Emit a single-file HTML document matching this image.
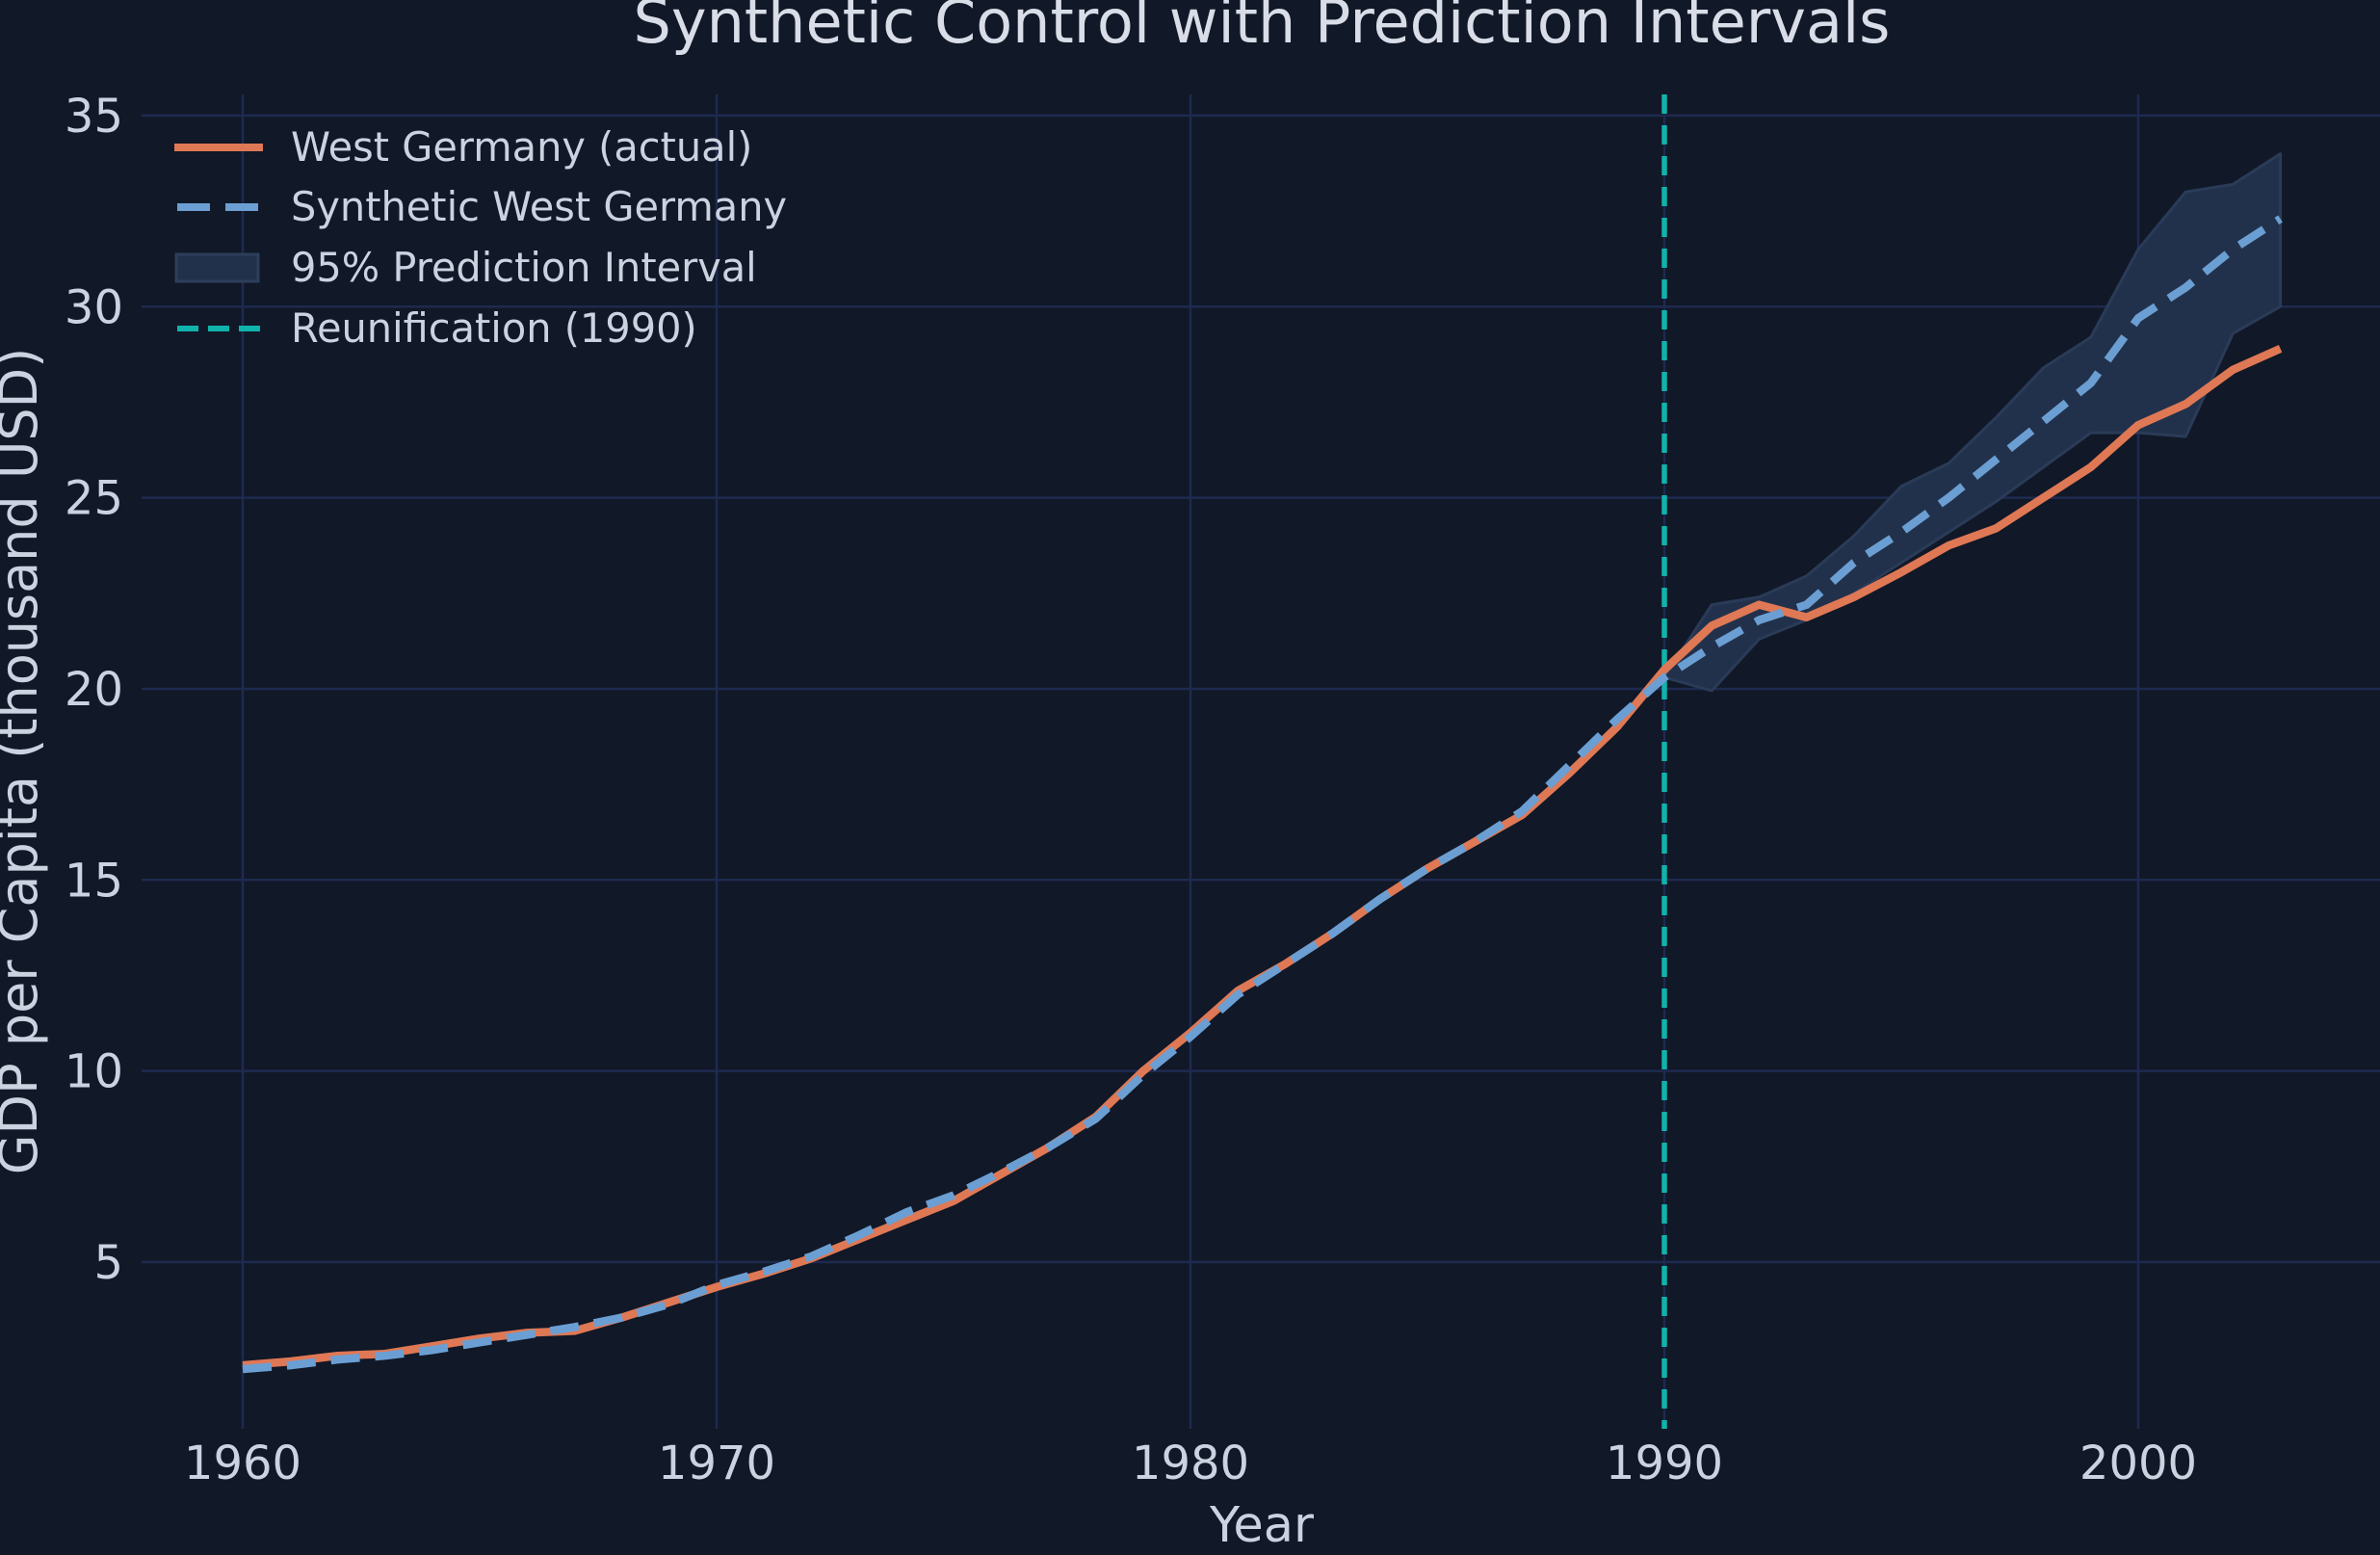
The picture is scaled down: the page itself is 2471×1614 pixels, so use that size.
<!DOCTYPE html>
<html><head><meta charset="utf-8"><style>
html,body{margin:0;padding:0;background:#111827;}
svg{display:block;font-family:"DejaVu Sans","Liberation Sans",sans-serif;}
</style></head><body>
<svg id="chart" width="2471" height="1614" viewBox="0 0 2471 1614" xmlns="http://www.w3.org/2000/svg">
<rect width="2471" height="1614" fill="#111827"/>
<g id="grid"></g>
<g id="band"></g>
<g id="lines"></g>
<g id="ticks"></g>
<text x="1310" y="44" text-anchor="middle" font-size="62" fill="#d8dde8">Synthetic Control with Prediction Intervals</text>
<text x="1310" y="1600" text-anchor="middle" font-size="51" fill="#cbd2e0">Year</text>
<text transform="translate(38,790) rotate(-90)" text-anchor="middle" font-size="54" fill="#cbd2e0">GDP per Capita (thousand USD)</text>
<g>
<g>
<line x1="181" y1="153" x2="273" y2="153" stroke="#df7855" stroke-width="8"/>
<text x="302" y="167" font-size="41.5" fill="#cbd2e0">West Germany (actual)</text></g>
<g>
<line x1="184" y1="215" x2="273" y2="215" stroke="#6b9fd3" stroke-width="8" stroke-dasharray="34,16"/>
<text x="302" y="229" font-size="41.5" fill="#cbd2e0">Synthetic West Germany</text></g>
<g>
<rect x="183" y="264" width="85" height="28" fill="#22314b" stroke="#2d3e5b" stroke-width="3"/>
<text x="302" y="292" font-size="41.5" fill="#cbd2e0">95% Prediction Interval</text></g>
<g>
<line x1="184" y1="341" x2="273" y2="341" stroke="#10b3ab" stroke-width="6" stroke-dasharray="22,10"/>
<text x="302" y="355" font-size="41.5" fill="#cbd2e0">Reunification (1990)</text></g>
</g>
</svg>
<script>
const years = [];
for (let y = 1960; y <= 2003; y++) years.push(y);
const actual = [2.3,2.4,2.55,2.6,2.8,3.0,3.15,3.2,3.55,3.95,4.35,4.7,5.1,5.6,6.1,6.6,7.3,8.0,8.8,10.0,11.0,12.1,12.8,13.6,14.5,15.3,16.0,16.7,17.8,19.0,20.5,21.65,22.2,21.87,22.4,23.05,23.75,24.2,25.0,25.8,26.9,27.45,28.35,28.9];
const synthetic = [2.2,2.3,2.45,2.55,2.7,2.9,3.1,3.3,3.55,3.9,4.4,4.75,5.15,5.7,6.3,6.75,7.35,8.0,8.75,9.9,10.9,12.0,12.8,13.6,14.5,15.3,16.0,16.8,18.0,19.2,20.3,21.1,21.8,22.2,23.3,24.1,25.0,26.0,27.0,28.0,29.7,30.5,31.5,32.3];
const bandYears = [1990,1991,1992,1993,1994,1995,1996,1997,1998,1999,2000,2001,2002,2003];
const upper = [20.3,22.2,22.4,22.95,24.0,25.3,25.9,27.1,28.4,29.2,31.5,33.0,33.2,34.0];
const lower = [20.3,19.95,21.3,21.8,22.5,23.3,24.1,24.9,25.8,26.7,26.7,26.6,29.3,30.0];
const xTicks = [1960,1970,1980,1990,2000];
const yTicks = [5,10,15,20,25,30,35];
const reunificationYear = 1990;

const PL=147, PR=2471, PT=98, PB=1483;
const X = v => 252 + (v-1960)*49.2;
const Y = v => 1310 - (v-5)*39.67;
const NS="http://www.w3.org/2000/svg";
function mk(tag, parent, attrs){const e=document.createElementNS(NS,tag);for(const k in attrs)e.setAttribute(k,attrs[k]);document.getElementById(parent).appendChild(e);return e;}

xTicks.forEach(t=>{
  const l=mk('line','grid',{x1:X(t),x2:X(t),y1:PT,y2:PB,stroke:'#1e2a50','stroke-width':2.5});
  
  
  const tx=mk('text','ticks',{x:X(t),y:1535,'text-anchor':'middle','font-size':48,fill:'#cbd2e0'});
  tx.textContent=t;
  
  
});
yTicks.forEach(t=>{
  const l=mk('line','grid',{x1:PL,x2:PR,y1:Y(t),y2:Y(t),stroke:'#1e2a50','stroke-width':2.5});
  
  
  const tx=mk('text','ticks',{x:128,y:Y(t)+17,'text-anchor':'end','font-size':48,fill:'#cbd2e0'});
  tx.textContent=t;
  
  
});

let pts = bandYears.map((y,i)=>X(y)+','+Y(upper[i]));
for(let i=bandYears.length-1;i>=0;i--) pts.push(X(bandYears[i])+','+Y(lower[i]));
const poly=mk('polygon','band',{points:pts.join(' '),fill:'#22314b',stroke:'#2a3b58','stroke-width':3,'stroke-linejoin':'round'});



const vl=mk('line','lines',{x1:X(reunificationYear),x2:X(reunificationYear),y1:PT,y2:PB,stroke:'#10b3ab','stroke-width':5.5,'stroke-dasharray':'20,12'});



const a=mk('polyline','lines',{points:years.map((y,i)=>X(y)+','+Y(actual[i])).join(' '),fill:'none',stroke:'#df7855','stroke-width':8.5,'stroke-linejoin':'round'});


const s=mk('polyline','lines',{points:years.map((y,i)=>X(y)+','+Y(synthetic[i])).join(' '),fill:'none',stroke:'#6b9fd3','stroke-width':8.5,'stroke-dasharray':'30,16'});


</script>
</body></html>
